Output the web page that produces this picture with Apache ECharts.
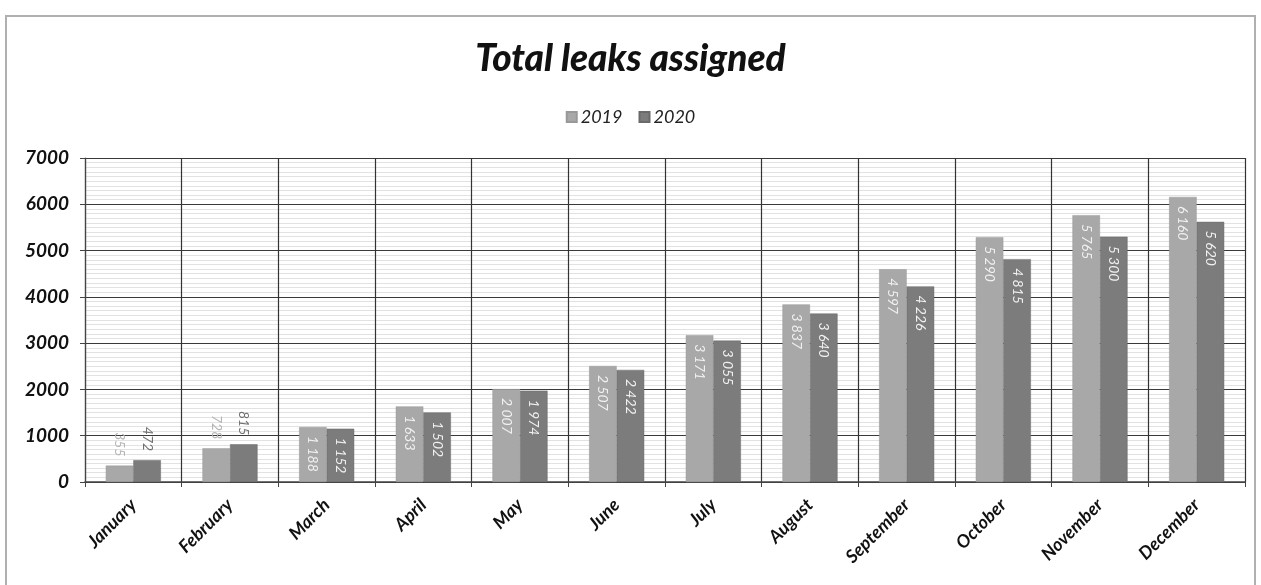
<!DOCTYPE html>
<html>
<head>
<meta charset="utf-8">
<script src="https://cdn.jsdelivr.net/npm/echarts@6/dist/echarts.min.js"></script>
<style>
  html, body { margin: 0; padding: 0; background: #fff; }
  #frame { position: absolute; left: 5px; top: 15px; width: 1251px; height: 575px; border: 2px solid #b0b0b0; box-sizing: border-box; }
  #chart { position: absolute; left: 0; top: 0; width: 1261px; height: 585px; }
</style>
</head>
<body>
<div id="frame"></div>
<div id="chart"></div>
<script>
// Monthly totals of leaks assigned
const months = ['January', 'February', 'March', 'April', 'May', 'June', 'July', 'August', 'September', 'October', 'November', 'December'];
const leaks2019 = [355, 728, 1188, 1633, 2007, 2507, 3171, 3837, 4597, 5290, 5765, 6160];
const leaks2020 = [472, 815, 1152, 1502, 1974, 2422, 3055, 3640, 4226, 4815, 5300, 5620];
const yTicks = [0, 1000, 2000, 3000, 4000, 5000, 6000, 7000];

const FONT = 'Lato, "Open Sans", sans-serif';

// Short bars carry their value above the bar; taller ones inside the top
const SHORT = 1000;
function fmt(v) {
  return v >= 1000 ? String(v).replace(/\B(?=(\d{3})+(?!\d))/g, ' ') : String(v);
}
function buildData(values, outsideColor) {
  return values.map(v => {
    if (v < SHORT) {
      return {
        value: v,
        label: { position: 'top', align: 'right', verticalAlign: 'middle', distance: 9, color: outsideColor }
      };
    }
    return v;
  });
}

const chart = echarts.init(document.getElementById('chart'), null, { renderer: 'canvas' });

const barLabel = {
  show: true,
  position: 'insideTop',
  rotate: -90,
  align: 'left',
  verticalAlign: 'middle',
  distance: 9,
  fontFamily: FONT,
  fontStyle: 'italic',
  fontSize: 14,
  color: '#f0f0f0',
  formatter: p => fmt(p.value)
};

chart.setOption({
  animation: false,
  backgroundColor: 'transparent',
  title: {
    text: 'Total leaks assigned',
    left: 'center',
    top: 36,
    textStyle: { fontFamily: FONT, fontStyle: 'italic', fontWeight: 900, fontSize: 37, color: '#111' }
  },
  legend: {
    top: 103,
    left: 'center',
    itemWidth: 10,
    itemHeight: 10,
    itemGap: 16,
    icon: 'rect',
    textStyle: { fontFamily: FONT, fontStyle: 'italic', fontSize: 18, color: '#222', padding: [0, 0, 0, -1] },
    data: ['2019', '2020']
  },
  grid: { left: 85, right: 16, top: 158, bottom: 103, containLabel: false },
  xAxis: {
    type: 'category',
    data: months,
    boundaryGap: true,
    axisLine: { show: true, lineStyle: { color: '#444', width: 1.5 } },
    axisTick: { show: true, alignWithLabel: false, length: 5, lineStyle: { color: '#444' } },
    splitLine: { show: true, lineStyle: { color: '#333', width: 1.2 } },
    axisLabel: {
      interval: 0,
      rotate: 45,
      margin: 20,
      fontFamily: FONT,
      fontStyle: 'italic',
      fontWeight: 'bold',
      fontSize: 18,
      color: '#111'
    }
  },
  yAxis: {
    type: 'value',
    min: 0,
    max: 7000,
    interval: 1000,
    axisLine: { show: true, lineStyle: { color: '#444', width: 1.2 } },
    axisTick: { show: true, length: 5, lineStyle: { color: '#444' } },
    axisLabel: {
      margin: 16,
      fontFamily: FONT,
      fontStyle: 'italic',
      fontWeight: 'bold',
      fontSize: 19,
      color: '#111',
      formatter: v => (yTicks.includes(v) ? String(v) : '')
    },
    splitLine: { show: true, lineStyle: { color: '#3a3a3a', width: 1.2 } },
    minorTick: { show: false, splitNumber: 10 },
    minorSplitLine: { show: true, lineStyle: { color: '#e2e2e2', width: 1 } }
  },
  series: [
    {
      name: '2019',
      type: 'bar',
      data: buildData(leaks2019, '#b5b5b5'),
      barGap: '0%',
      barCategoryGap: '43%',
      itemStyle: { color: '#a8a8a8', borderColor: '#999', borderWidth: 0.5 },
      label: barLabel
    },
    {
      name: '2020',
      type: 'bar',
      data: buildData(leaks2020, '#707070'),
      itemStyle: { color: '#7c7c7c', borderColor: '#6a6a6a', borderWidth: 0.5 },
      label: barLabel
    }
  ]
});
</script>
</body>
</html>
